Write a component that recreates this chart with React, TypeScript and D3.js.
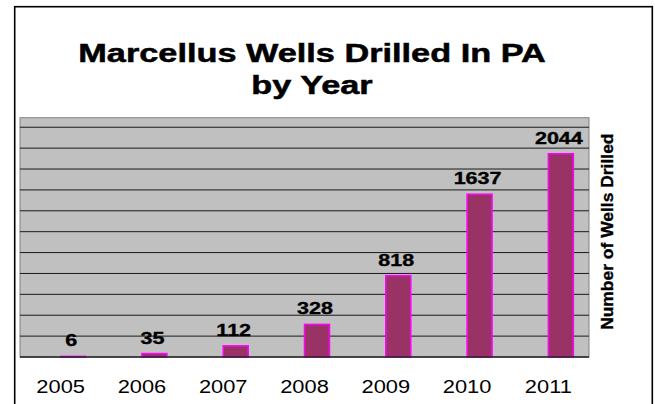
import React from 'react';
import * as d3 from 'd3';

const years = ['2005', '2006', '2007', '2008', '2009', '2010', '2011'];
const wells = [6, 35, 112, 328, 818, 1637, 2044];
// Excel cluster: an empty first series pushes the bars right of the category centre
const seriesKeys = ['blank', 'wells'];
const yMax = 2406;
const gridStep = 210;
const titleLines = ['Marcellus Wells Drilled In PA', 'by Year'];
const yLabel = 'Number of Wells Drilled';

const FONT = '"Liberation Sans", Arial, sans-serif';

const App: React.FC = () => {
  const width = 655;
  const height = 404;
  const plot = { left: 20, right: 589, top: 117.7, bottom: 357 };

  const x0 = d3.scaleBand<string>()
    .domain(years)
    .range([plot.left, plot.right])
    .paddingInner(0.385)
    .paddingOuter(0.1925);

  const x1 = d3.scaleBand<string>()
    .domain(seriesKeys)
    .range([0, x0.bandwidth()]);

  const y = d3.scaleLinear().domain([0, yMax]).range([plot.bottom, plot.top]);

  const gridValues = d3.range(gridStep, yMax, gridStep);

  return (
    <svg
      width={width}
      height={height}
      style={{ position: 'absolute', left: 0, top: 0, background: '#fff' }}
    >
      {/* outer chart border */}
      <rect x={14.7} y={6.7} width={637.6} height={420} fill="none" stroke="#000" strokeWidth={1.6} />

      {/* title */}
      {titleLines.map((line, i) => (
        <text
          key={line}
          transform={`translate(312,${61.7 + i * 32.3}) scale(1.34,1)`}
          textAnchor="middle"
          fontFamily={FONT}
          fontWeight="bold"
          fontSize={25.6}
          fill="#000"
          stroke="#000"
          strokeWidth={0.5}
        >
          {line}
        </text>
      ))}

      {/* plot area */}
      <rect
        x={plot.left}
        y={plot.top}
        width={plot.right - plot.left}
        height={plot.bottom - plot.top}
        fill="#c0c0c0"
        stroke="#808080"
        strokeWidth={1}
      />

      {gridValues.map((v) => (
        <line
          key={v}
          x1={plot.left}
          x2={plot.right}
          y1={y(v)}
          y2={y(v)}
          stroke="#1a1a1a"
          strokeWidth={1}
        />
      ))}

      {/* bars */}
      {years.map((yr, i) => {
        const bx = (x0(yr) ?? 0) + (x1('wells') ?? 0);
        const bw = x1.bandwidth();
        return (
          <rect
            key={yr}
            x={bx}
            y={y(wells[i])}
            width={bw}
            height={plot.bottom - y(wells[i])}
            fill="#993366"
            stroke="#ff00ff"
            strokeWidth={1.5}
          />
        );
      })}

      {/* category axis line */}
      <line x1={plot.left} x2={plot.right} y1={plot.bottom} y2={plot.bottom} stroke="#222" strokeWidth={1.6} />

      {/* value labels */}
      {years.map((yr, i) => {
        const cx = (x0(yr) ?? 0) + (x1('wells') ?? 0) + x1.bandwidth() / 2;
        return (
          <text
            key={yr}
            transform={`translate(${cx - 2},${y(wells[i]) - 10}) scale(1.32,1)`}
            textAnchor="middle"
            fontFamily={FONT}
            fontWeight="bold"
            fontSize={16.3}
            fill="#000"
            stroke="#000"
            strokeWidth={0.35}
          >
            {wells[i]}
          </text>
        );
      })}

      {/* year labels */}
      {years.map((yr) => (
        <text
          key={yr}
          transform={`translate(${(x0(yr) ?? 0) + x0.bandwidth() / 2},392.5) scale(1.15,1)`}
          textAnchor="middle"
          fontFamily={FONT}
          fontSize={19}
          fill="#000"
        >
          {yr}
        </text>
      ))}

      {/* axis title on the right */}
      <text
        transform={`translate(613,231.7) rotate(-90) scale(1.07,1)`}
        textAnchor="middle"
        fontFamily={FONT}
        fontWeight="bold"
        fontSize={16.3}
        fill="#000"
        stroke="#000"
        strokeWidth={0.35}
      >
        {yLabel}
      </text>
    </svg>
  );
};

export default App;
